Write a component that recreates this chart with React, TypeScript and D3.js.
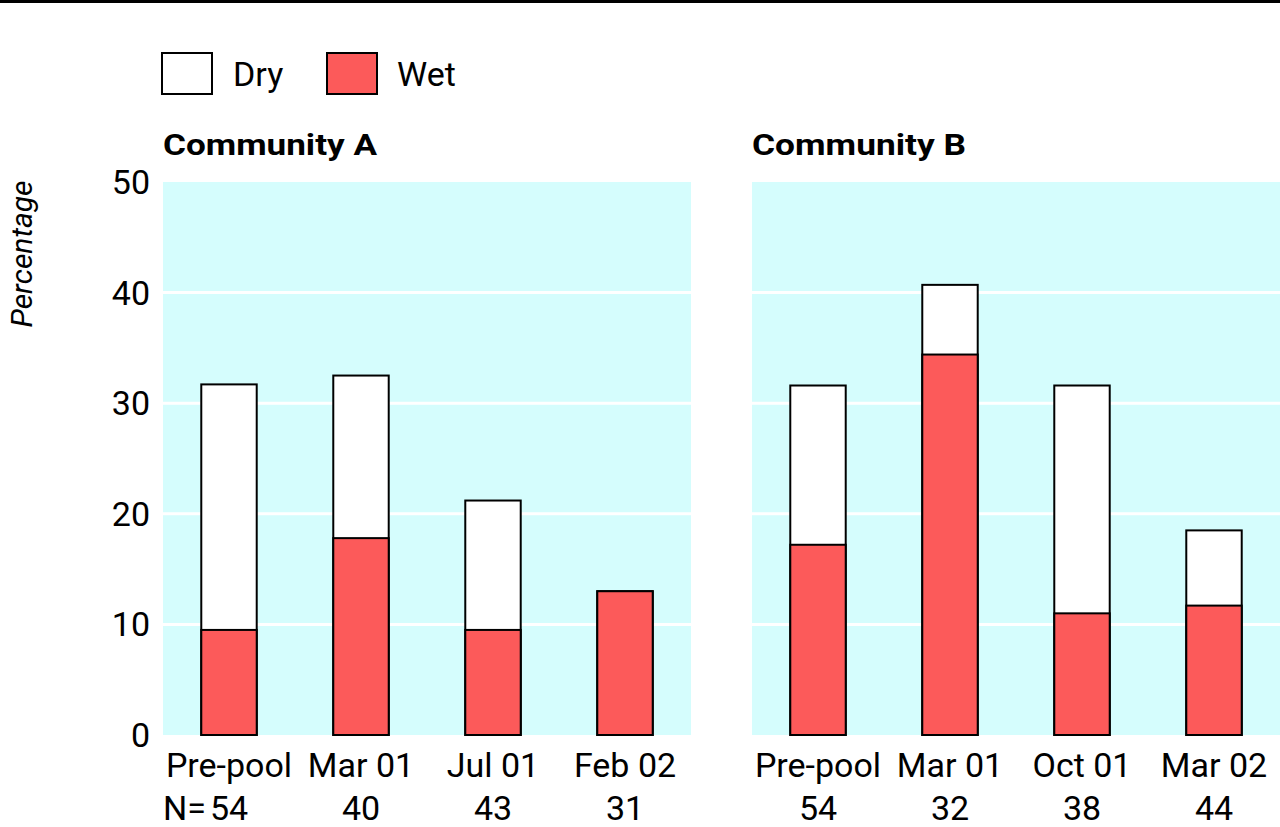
import React from 'react';
import * as d3 from 'd3';

const categoriesA = ['Pre-pool', 'Mar 01', 'Jul 01', 'Feb 02'];
const totalA = [31.7, 32.5, 21.2, 13.0];
const wetA = [9.5, 17.8, 9.5, 13.0];
const nA = ['54', '40', '43', '31'];

const categoriesB = ['Pre-pool', 'Mar 01', 'Oct 01', 'Mar 02'];
const totalB = [31.6, 40.7, 31.6, 18.5];
const wetB = [17.2, 34.4, 11.0, 11.7];
const nB = ['54', '32', '38', '44'];

const yTicks = [0, 10, 20, 30, 40, 50];

const FONT = 'Roboto, "Liberation Sans", Arial, sans-serif';
const BG = '#d5fdfd';
const RED = '#fc5a5a';

const y = d3.scaleLinear().domain([0, 50]).range([735, 182]);

interface PanelProps {
  x0: number;
  title: string;
  cats: string[];
  total: number[];
  wet: number[];
  n: string[];
}

const Panel: React.FC<PanelProps> = ({ x0, title, cats, total, wet, n }) => {
  const x = d3.scaleBand().domain(cats).range([x0, x0 + 528]).paddingInner(0.58).paddingOuter(0.29);
  return (
    <g>
      <text x={x0} y={155} fontSize={30} fontWeight="bold" fontFamily={FONT} textLength={214} lengthAdjust="spacingAndGlyphs">{title}</text>
      <rect x={x0} y={y(50)} width={528} height={y(0) - y(50)} fill={BG} />
      {yTicks.slice(1, 5).map((t) => (
        <line key={t} x1={x0} x2={x0 + 528} y1={y(t)} y2={y(t)} stroke="#fff" strokeWidth={3} />
      ))}
      {cats.map((c, i) => (
        <g key={c}>
          <rect x={x(c)} y={y(total[i])} width={x.bandwidth()} height={y(0) - y(total[i])}
            fill="#fff" stroke="#000" strokeWidth={2} />
          <rect x={x(c)} y={y(wet[i])} width={x.bandwidth()} height={y(0) - y(wet[i])}
            fill={RED} stroke="#000" strokeWidth={2} />
          <text x={(x(c) as number) + x.bandwidth() / 2} y={777} textAnchor="middle" fontSize={34} fontFamily={FONT}>{c}</text>
          <text x={(x(c) as number) + x.bandwidth() / 2} y={820} textAnchor="middle" fontSize={34} fontFamily={FONT}>{n[i]}</text>
        </g>
      ))}
    </g>
  );
};

const App: React.FC = () => (
  <svg width={1280} height={827} style={{ position: 'absolute', left: 0, top: 0, background: '#fff' }}>
    <rect x={0} y={0} width={1280} height={3} fill="#000" />
    <rect x={162} y={53} width={50} height={41} fill="#fff" stroke="#000" strokeWidth={2} />
    <text x={233} y={86} fontSize={34} fontFamily={FONT}>Dry</text>
    <rect x={327} y={53} width={50} height={41} fill={RED} stroke="#000" strokeWidth={2} />
    <text x={397} y={86} fontSize={34} fontFamily={FONT}>Wet</text>
    {yTicks.map((t) => (
      <text key={t} x={150} y={y(t) + 12} textAnchor="end" fontSize={34} fontFamily={FONT}>{t}</text>
    ))}
    <text transform="translate(32,254) rotate(-90)" textAnchor="middle" fontSize={30} fontStyle="italic" fontFamily={FONT}>Percentage</text>
    <Panel x0={163} title="Community A" cats={categoriesA} total={totalA} wet={wetA} n={nA} />
    <Panel x0={752} title="Community B" cats={categoriesB} total={totalB} wet={wetB} n={nB} />
    <text x={163} y={820} fontSize={34} fontFamily={FONT}>N=</text>
  </svg>
);

export default App;
